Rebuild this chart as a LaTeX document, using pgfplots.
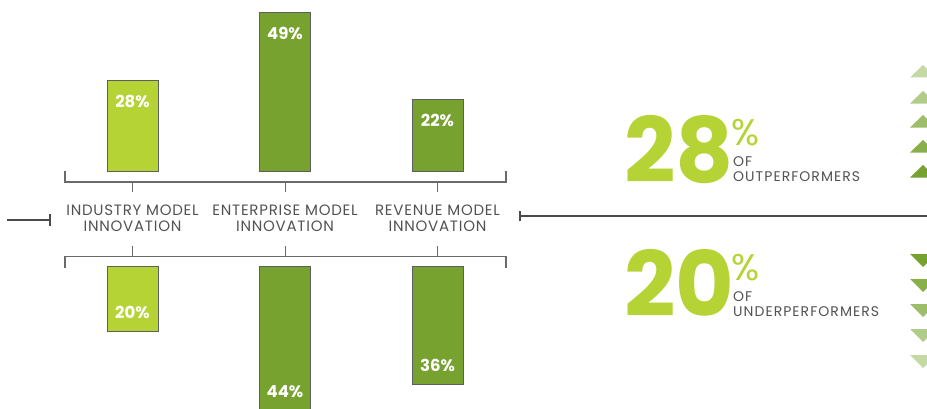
\documentclass[border=0pt]{standalone}
\usepackage{fontspec}
\setmainfont{Poppins}
\usepackage{pgfplots}
\pgfplotsset{compat=1.18}
\definecolor{lgreen}{HTML}{B5D334}
\definecolor{dgreen}{HTML}{77A22F}
\definecolor{bord}{HTML}{5E5E5E}
\definecolor{txt}{HTML}{525252}
\definecolor{brk}{HTML}{6A6A6A}
\definecolor{rulec}{HTML}{4A4A4A}
\definecolor{t1}{HTML}{C5D9A4}
\definecolor{t2}{HTML}{B1CC88}
\definecolor{t3}{HTML}{9DBD69}
\definecolor{t4}{HTML}{88AF48}
\definecolor{t5}{HTML}{77A22F}
\newcommand{\lblfont}{\addfontfeatures{LetterSpace=5}\fontsize{15}{16}\selectfont}
\newcommand{\offont}{\addfontfeatures{LetterSpace=7.5}\fontsize{14}{15}\selectfont}
\pgfplotsset{
  barsaxis/.style={
    x=152.5pt, xmin=-0.5, xmax=2.5,
    axis line style={draw=none}, major tick length=0pt,
    ytick=\empty, clip=false,
    ybar, bar width=51pt, bar shift=0pt,
    /pgf/number format/assume math mode=true,
    nodes near coords={\pgfmathprintnumber{\pgfplotspointmeta}\%},
    every axis plot/.append style={draw=bord, line width=1pt},
  }
}
\begin{document}
\begin{tikzpicture}
\useasboundingbox (0pt,0pt) rectangle (927pt,408pt);
\begin{scope}
\clip (0pt,0pt) rectangle (927pt,408pt);
% top axis: outperformers
\begin{axis}[barsaxis, at={(56.25pt,237pt)}, anchor=south west,
  y=3.24pt, ymin=0, ymax=52,
  xtick={0,1,2},
  xticklabels={{INDUSTRY MODEL\\INNOVATION},{ENTERPRISE MODEL\\INNOVATION},{REVENUE MODEL\\INNOVATION}},
  xticklabel style={align=center, anchor=center, yshift=-47pt, text=txt,
    font=\lblfont},
  every node near coord/.append style={font=\bfseries\fontsize{16.5}{16.5}\selectfont, text=white, anchor=center, yshift=-21pt},
]
\addplot[fill=lgreen] coordinates {(0,28)};
\addplot[fill=dgreen] coordinates {(1,49) (2,22)};
\end{axis}
% bottom axis: underperformers
\begin{axis}[barsaxis, at={(56.25pt,142pt)}, anchor=north west,
  y dir=reverse, y=3.28pt, ymin=0, ymax=50,
  xtick=\empty,
  every node near coord/.append style={font=\bfseries\fontsize{16.5}{16.5}\selectfont, text=white, anchor=center, yshift=19pt},
]
\addplot[fill=lgreen] coordinates {(0,20)};
\addplot[fill=dgreen] coordinates {(1,44) (2,36)};
\end{axis}
\begin{scope}[x=1pt,y=1pt]
% brackets
\draw[brk, line width=1.3pt] (65,237) -- (65,226) -- (506,226) -- (506,237);
\foreach \x in {132.5,285.5,437.5} \draw[brk, line width=1.3pt] (\x,226) -- (\x,216);
\draw[brk, line width=1.3pt] (65,140) -- (65,151.3) -- (506,151.3) -- (506,140);
\foreach \x in {132.5,285.5,437.5} \draw[brk, line width=1.3pt] (\x,151.3) -- (\x,162);
% side rules
\draw[rulec, line width=2.5pt] (7,188) -- (50,188);
\draw[rulec, line width=2.5pt] (50,182) -- (50,194);
\draw[rulec, line width=2.5pt] (520,192) -- (927,192);
\draw[rulec, line width=2.5pt] (520,187) -- (520,197);
% big figures
\node[anchor=base west, inner sep=0, text=lgreen, font=\bfseries\fontsize{90}{90}\selectfont] at (624,226) {28\kern-5pt};
\node[anchor=base west, inner sep=0, text depth=0pt, text=lgreen, font=\fontsize{37}{37}\selectfont] at (731,263) {\%};
\node[anchor=base west, inner sep=0, text=txt, font=\offont, align=left] at (733,227) {OF\\OUTPERFORMERS};
\node[anchor=base west, inner sep=0, text=lgreen, font=\bfseries\fontsize{90}{90}\selectfont] at (624,92) {20\kern-5pt};
\node[anchor=base west, inner sep=0, text depth=0pt, text=lgreen, font=\fontsize{37}{37}\selectfont] at (731,128) {\%};
\node[anchor=base west, inner sep=0, text=txt, font=\offont, align=left] at (733,92) {OF\\UNDERPERFORMERS};
% triangles up
\foreach \yt/\c in {65/t1, 91/t2, 115/t3, 140/t4, 165/t5}
  \fill[\c] (910,408-\yt-12.5) -- (936,408-\yt-12.5) -- (923,408-\yt) -- cycle;
% triangles down
\foreach \yt/\c in {254/t5, 279/t4, 304/t3, 329/t2, 355/t1}
  \fill[\c] (910,408-\yt) -- (936,408-\yt) -- (923,408-\yt-13) -- cycle;
\end{scope}
\end{scope}
\end{tikzpicture}
\end{document}
